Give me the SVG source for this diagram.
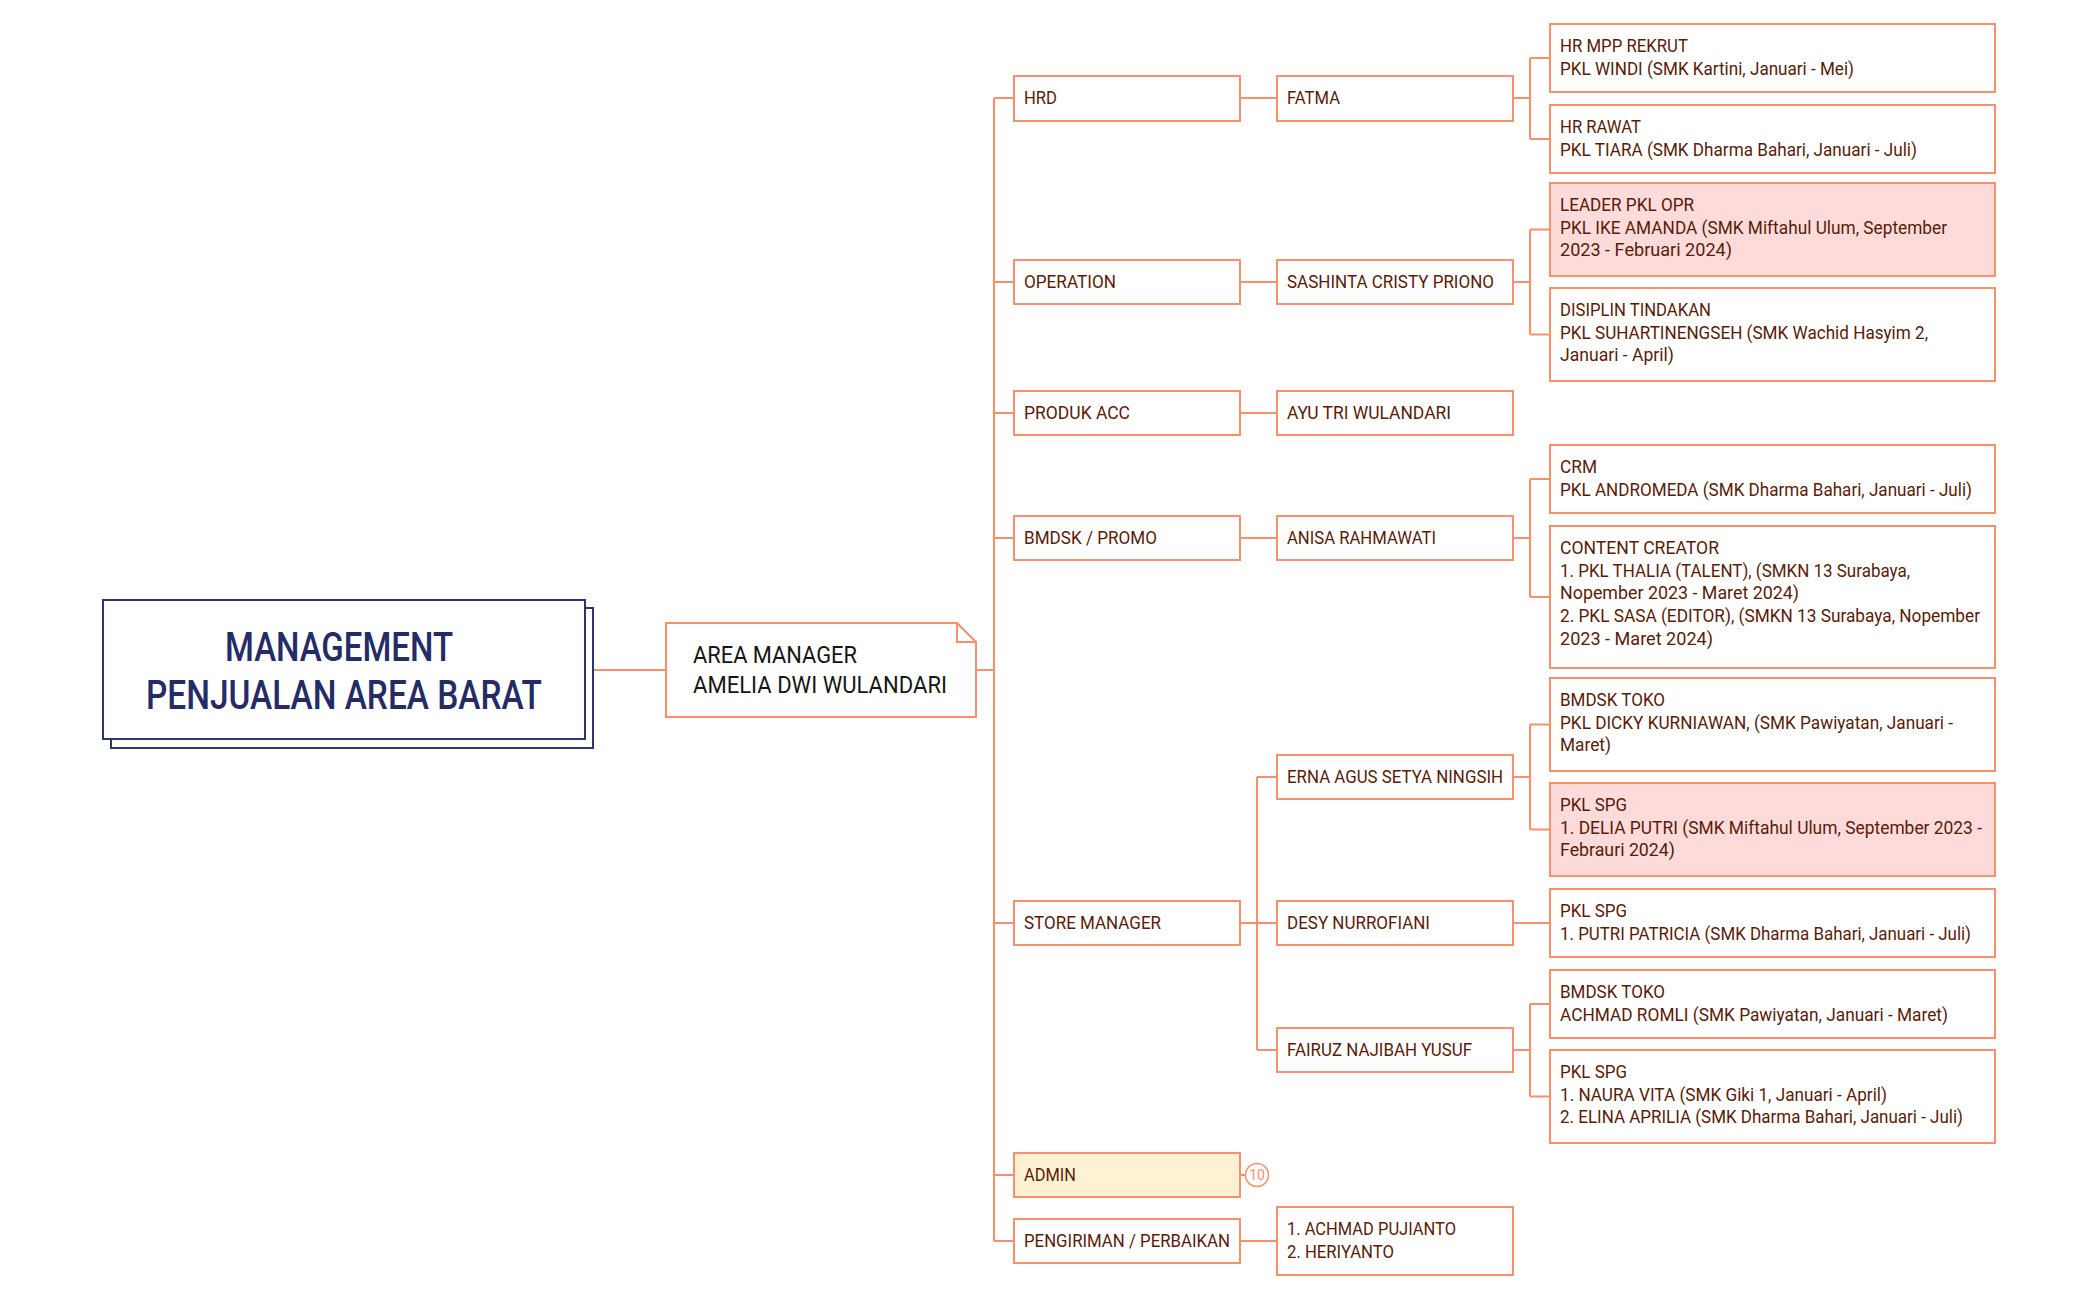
<svg xmlns="http://www.w3.org/2000/svg" width="2097" height="1300" viewBox="0 0 2097 1300">
<style>
.bx{fill:#ffffff;stroke:#F8906C;stroke-width:2}
.pk{fill:#FDDBDB;stroke:#F8906C;stroke-width:2}
.ad{fill:#FFF1D1;stroke:#F8906C;stroke-width:2}
.t{font-family:Roboto,"Liberation Sans",sans-serif;font-size:19px;fill:#5A1C08}
.am{font-family:Roboto,"Liberation Sans",sans-serif;font-size:24px;fill:#161616}
.ti{font-family:Roboto,"Liberation Sans",sans-serif;font-size:40px;font-weight:500;fill:#252B66;text-anchor:middle}
.cn{fill:none;stroke:#F8906C;stroke-width:2}
.nv{fill:#ffffff;stroke:#2E3470;stroke-width:2}
</style>
<rect width="2097" height="1300" fill="#ffffff"/>
<g id="connectors" class="cn">
<path d="M585 670H666"/>
<path d="M976 670H994"/>
<path d="M994 98V1241"/>
<path d="M994 98H1014M994 282H1014M994 413H1014M994 538H1014M994 923H1014M994 1175H1014M994 1241H1014"/>
<path d="M1240 98H1277M1240 282H1277M1240 413H1277M1240 538H1277M1240 1241H1277"/>
<path d="M1240 923H1277M1257 777V1050M1257 777H1277M1257 1050H1277"/>
<path d="M1240 1175H1245.5"/>
<path d="M1513 98H1530M1530 58V139M1530 58H1550M1530 139H1550"/>
<path d="M1513 282H1530M1530 229.5V334.5M1530 229.5H1550M1530 334.5H1550"/>
<path d="M1513 538H1530M1530 479V597M1530 479H1550M1530 597H1550"/>
<path d="M1513 777H1530M1530 724.5V829.5M1530 724.5H1550M1530 829.5H1550"/>
<path d="M1513 923H1550"/>
<path d="M1513 1050H1530M1530 1004V1096.5M1530 1004H1550M1530 1096.5H1550"/>
</g>
<g id="root">
<rect class="nv" x="111" y="608" width="482" height="140"/>
<rect class="nv" x="103" y="600" width="482" height="139"/>
<text class="ti" x="339" y="661" textLength="228" lengthAdjust="spacingAndGlyphs">MANAGEMENT</text>
<text class="ti" x="344" y="709" textLength="396" lengthAdjust="spacingAndGlyphs">PENJUALAN AREA BARAT</text>
</g>
<g id="area-manager">
<path class="bx" d="M666 623H957L976 642V717H666Z"/>
<path class="cn" d="M957 623V642H976"/>
<text class="am" x="693" y="663" textLength="164" lengthAdjust="spacingAndGlyphs">AREA MANAGER</text>
<text class="am" x="693" y="693" textLength="254" lengthAdjust="spacingAndGlyphs">AMELIA DWI WULANDARI</text>
</g>
<g id="hrd"><rect class="bx" x="1014" y="76" width="226" height="45"/><text class="t" x="1024" y="104" textLength="33" lengthAdjust="spacingAndGlyphs">HRD</text></g>
<g id="operation"><rect class="bx" x="1014" y="260" width="226" height="44"/><text class="t" x="1024" y="288" textLength="92" lengthAdjust="spacingAndGlyphs">OPERATION</text></g>
<g id="produk-acc"><rect class="bx" x="1014" y="391" width="226" height="44"/><text class="t" x="1024" y="419" textLength="106" lengthAdjust="spacingAndGlyphs">PRODUK ACC</text></g>
<g id="bmdsk-promo"><rect class="bx" x="1014" y="516" width="226" height="44"/><text class="t" x="1024" y="544" textLength="133" lengthAdjust="spacingAndGlyphs">BMDSK / PROMO</text></g>
<g id="store-manager"><rect class="bx" x="1014" y="901" width="226" height="44"/><text class="t" x="1024" y="929" textLength="137" lengthAdjust="spacingAndGlyphs">STORE MANAGER</text></g>
<g id="admin"><rect class="ad" x="1014" y="1153" width="226" height="44"/><text class="t" x="1024" y="1181" textLength="52" lengthAdjust="spacingAndGlyphs">ADMIN</text>
<circle cx="1257" cy="1175" r="11.5" fill="#ffffff" stroke="#F8906C" stroke-width="1.5"/>
<text x="1257" y="1180" font-family="Roboto,'Liberation Sans',sans-serif" font-size="14" fill="#F8906C" text-anchor="middle">10</text></g>
<g id="pengiriman"><rect class="bx" x="1014" y="1219" width="226" height="44"/><text class="t" x="1024" y="1247" textLength="206" lengthAdjust="spacingAndGlyphs">PENGIRIMAN / PERBAIKAN</text></g>
<g id="fatma"><rect class="bx" x="1277" y="76" width="236" height="45"/><text class="t" x="1287" y="104" textLength="53" lengthAdjust="spacingAndGlyphs">FATMA</text></g>
<g id="sashinta"><rect class="bx" x="1277" y="260" width="236" height="44"/><text class="t" x="1287" y="288" textLength="207" lengthAdjust="spacingAndGlyphs">SASHINTA CRISTY PRIONO</text></g>
<g id="ayu"><rect class="bx" x="1277" y="391" width="236" height="44"/><text class="t" x="1287" y="419" textLength="164" lengthAdjust="spacingAndGlyphs">AYU TRI WULANDARI</text></g>
<g id="anisa"><rect class="bx" x="1277" y="516" width="236" height="44"/><text class="t" x="1287" y="544" textLength="149" lengthAdjust="spacingAndGlyphs">ANISA RAHMAWATI</text></g>
<g id="erna"><rect class="bx" x="1277" y="755" width="236" height="44"/><text class="t" x="1287" y="783" textLength="216" lengthAdjust="spacingAndGlyphs">ERNA AGUS SETYA NINGSIH</text></g>
<g id="desy"><rect class="bx" x="1277" y="901" width="236" height="44"/><text class="t" x="1287" y="929" textLength="143" lengthAdjust="spacingAndGlyphs">DESY NURROFIANI</text></g>
<g id="fairuz"><rect class="bx" x="1277" y="1028" width="236" height="44"/><text class="t" x="1287" y="1056" textLength="185" lengthAdjust="spacingAndGlyphs">FAIRUZ NAJIBAH YUSUF</text></g>
<g id="pengiriman-staff"><rect class="bx" x="1277" y="1207" width="236" height="68"/><text class="t" x="1287" y="1235" textLength="169" lengthAdjust="spacingAndGlyphs">1. ACHMAD PUJIANTO</text><text class="t" x="1287" y="1257.7" textLength="107" lengthAdjust="spacingAndGlyphs">2. HERIYANTO</text></g>
<g id="hr-mpp"><rect class="bx" x="1550" y="24" width="445" height="68"/>
<text class="t" x="1560" y="52" textLength="128" lengthAdjust="spacingAndGlyphs">HR MPP REKRUT</text>
<text class="t" x="1560" y="74.7" textLength="294" lengthAdjust="spacingAndGlyphs">PKL WINDI (SMK Kartini, Januari - Mei)</text></g>
<g id="hr-rawat"><rect class="bx" x="1550" y="105" width="445" height="68"/>
<text class="t" x="1560" y="133" textLength="81" lengthAdjust="spacingAndGlyphs">HR RAWAT</text>
<text class="t" x="1560" y="155.7" textLength="357" lengthAdjust="spacingAndGlyphs">PKL TIARA (SMK Dharma Bahari, Januari - Juli)</text></g>
<g id="leader-pkl"><rect class="pk" x="1550" y="183" width="445" height="93"/>
<text class="t" x="1560" y="211" textLength="134" lengthAdjust="spacingAndGlyphs">LEADER PKL OPR</text>
<text class="t" x="1560" y="233.7" textLength="387" lengthAdjust="spacingAndGlyphs">PKL IKE AMANDA (SMK Miftahul Ulum, September</text>
<text class="t" x="1560" y="256.4" textLength="172" lengthAdjust="spacingAndGlyphs">2023 - Februari 2024)</text></g>
<g id="disiplin"><rect class="bx" x="1550" y="288" width="445" height="93"/>
<text class="t" x="1560" y="316" textLength="151" lengthAdjust="spacingAndGlyphs">DISIPLIN TINDAKAN</text>
<text class="t" x="1560" y="338.7" textLength="368" lengthAdjust="spacingAndGlyphs">PKL SUHARTINENGSEH (SMK Wachid Hasyim 2,</text>
<text class="t" x="1560" y="361.4" textLength="114" lengthAdjust="spacingAndGlyphs">Januari - April)</text></g>
<g id="crm"><rect class="bx" x="1550" y="445" width="445" height="68"/>
<text class="t" x="1560" y="473" textLength="37" lengthAdjust="spacingAndGlyphs">CRM</text>
<text class="t" x="1560" y="495.7" textLength="412" lengthAdjust="spacingAndGlyphs">PKL ANDROMEDA (SMK Dharma Bahari, Januari - Juli)</text></g>
<g id="content-creator"><rect class="bx" x="1550" y="526" width="445" height="142"/>
<text class="t" x="1560" y="554" textLength="159" lengthAdjust="spacingAndGlyphs">CONTENT CREATOR</text>
<text class="t" x="1560" y="576.7" textLength="350" lengthAdjust="spacingAndGlyphs">1. PKL THALIA (TALENT), (SMKN 13 Surabaya,</text>
<text class="t" x="1560" y="599.4" textLength="239" lengthAdjust="spacingAndGlyphs">Nopember 2023 - Maret 2024)</text>
<text class="t" x="1560" y="622.1" textLength="420" lengthAdjust="spacingAndGlyphs">2. PKL SASA (EDITOR), (SMKN 13 Surabaya, Nopember</text>
<text class="t" x="1560" y="644.8" textLength="153" lengthAdjust="spacingAndGlyphs">2023 - Maret 2024)</text></g>
<g id="bmdsk-toko-1"><rect class="bx" x="1550" y="678" width="445" height="93"/>
<text class="t" x="1560" y="706" textLength="105" lengthAdjust="spacingAndGlyphs">BMDSK TOKO</text>
<text class="t" x="1560" y="728.7" textLength="393" lengthAdjust="spacingAndGlyphs">PKL DICKY KURNIAWAN, (SMK Pawiyatan, Januari -</text>
<text class="t" x="1560" y="751.4" textLength="51" lengthAdjust="spacingAndGlyphs">Maret)</text></g>
<g id="pkl-spg-1"><rect class="pk" x="1550" y="783" width="445" height="93"/>
<text class="t" x="1560" y="811" textLength="67" lengthAdjust="spacingAndGlyphs">PKL SPG</text>
<text class="t" x="1560" y="833.7" textLength="422" lengthAdjust="spacingAndGlyphs">1. DELIA PUTRI (SMK Miftahul Ulum, September 2023 -</text>
<text class="t" x="1560" y="856.4" textLength="115" lengthAdjust="spacingAndGlyphs">Febrauri 2024)</text></g>
<g id="pkl-spg-2"><rect class="bx" x="1550" y="889" width="445" height="68"/>
<text class="t" x="1560" y="917" textLength="67" lengthAdjust="spacingAndGlyphs">PKL SPG</text>
<text class="t" x="1560" y="939.7" textLength="411" lengthAdjust="spacingAndGlyphs">1. PUTRI PATRICIA (SMK Dharma Bahari, Januari - Juli)</text></g>
<g id="bmdsk-toko-2"><rect class="bx" x="1550" y="970" width="445" height="68"/>
<text class="t" x="1560" y="998" textLength="105" lengthAdjust="spacingAndGlyphs">BMDSK TOKO</text>
<text class="t" x="1560" y="1020.7" textLength="388" lengthAdjust="spacingAndGlyphs">ACHMAD ROMLI (SMK Pawiyatan, Januari - Maret)</text></g>
<g id="pkl-spg-3"><rect class="bx" x="1550" y="1050" width="445" height="93"/>
<text class="t" x="1560" y="1078" textLength="67" lengthAdjust="spacingAndGlyphs">PKL SPG</text>
<text class="t" x="1560" y="1100.7" textLength="327" lengthAdjust="spacingAndGlyphs">1. NAURA VITA (SMK Giki 1, Januari - April)</text>
<text class="t" x="1560" y="1123.4" textLength="403" lengthAdjust="spacingAndGlyphs">2. ELINA APRILIA (SMK Dharma Bahari, Januari - Juli)</text></g>
</svg>
